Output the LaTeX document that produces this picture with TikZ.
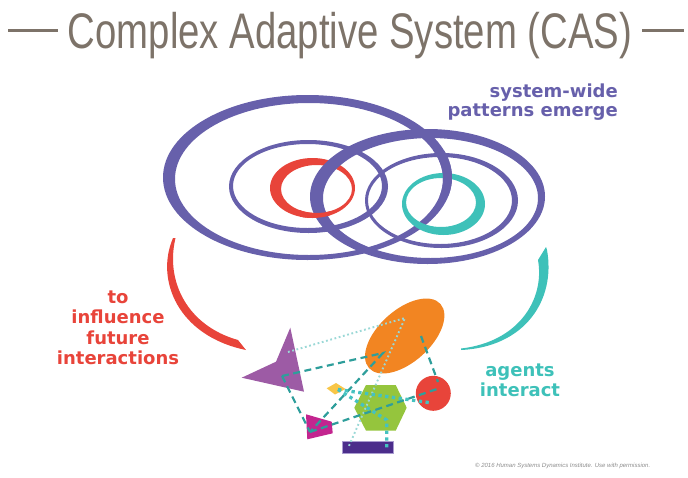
\documentclass[tikz,border=0pt]{standalone}
\usepackage{fontspec}
\setmainfont{Liberation Sans}
\newfontfamily\labfont{DejaVu Sans}
\definecolor{cpurple}{HTML}{6760AB}
\definecolor{cred}{HTML}{E8443A}
\definecolor{cteal}{HTML}{3EC1B9}
\definecolor{ctitle}{HTML}{7D7369}
\definecolor{corange}{HTML}{F28522}
\definecolor{cgreen}{HTML}{95C53D}
\definecolor{cmag}{HTML}{C3258F}
\definecolor{ctri}{HTML}{9D5BA5}
\definecolor{crect}{HTML}{4B2D8B}
\definecolor{crectb}{HTML}{A99BD0}
\definecolor{cyellow}{HTML}{F8C647}
\definecolor{dashteal}{HTML}{2E9E9B}
\definecolor{lightteal}{HTML}{9AD8D6}
\definecolor{dotteal}{HTML}{45C2C0}
\definecolor{ccopy}{HTML}{8C8C8C}
\tikzset{
  ring/.style={even odd rule},
  dashlink/.style={dashteal, line width=2.2pt, dash pattern=on 7pt off 4.5pt},
  lightlink/.style={lightteal, line width=1.9pt, dash pattern=on 1.8pt off 2.6pt},
  dotlink/.style={dotteal, line width=3.3pt, dash pattern=on 3.3pt off 3.5pt},
  lab/.style={font=\labfont\bfseries\fontsize{18}{20}\selectfont, anchor=base, inner sep=0pt},
}
\begin{document}
\begin{tikzpicture}[x=1pt,y=-1pt]
\useasboundingbox (0,0) rectangle (688,477);
% title
\node[anchor=base, inner sep=0pt, text=ctitle, font=\fontsize{50}{60}\selectfont] (title) at (350,48) {\scalebox{0.766}[1]{Complex Adaptive System (CAS)}};
\draw[ctitle, line width=3pt] (8,30) -- (58,30);
\draw[ctitle, line width=3pt] (642,30) -- (684,30);
% rings
\fill[cpurple,ring] (307.5,177.5) ellipse [x radius=144.5pt, y radius=82.5pt] (309,179) ellipse [x radius=134pt, y radius=76pt];
\fill[cpurple,ring] (308.5,186.5) ellipse [x radius=79.5pt, y radius=46.5pt] (307.5,186) ellipse [x radius=74.5pt, y radius=42pt];
\fill[cred,ring] (312.5,188) ellipse [x radius=42.5pt, y radius=30pt] (316.5,189) ellipse [x radius=35.5pt, y radius=24pt];
\fill[cpurple,ring] (427.5,196.5) ellipse [x radius=117.5pt, y radius=67.5pt] (430.5,198) ellipse [x radius=107.5pt, y radius=60pt];
\begin{scope}
\clip (300,200) rectangle (330,226);
\fill[cred,ring] (312.5,188) ellipse [x radius=42.5pt, y radius=30pt] (316.5,189) ellipse [x radius=35.5pt, y radius=24pt];
\end{scope}
\fill[cpurple,ring] (441.5,200.5) ellipse [x radius=76.5pt, y radius=47.5pt] (440,200.5) ellipse [x radius=72pt, y radius=43.5pt];
\fill[cteal,ring] (443.5,204) ellipse [x radius=41.5pt, y radius=31pt] (441,202.5) ellipse [x radius=35pt, y radius=24.5pt];
\begin{scope}
\clip (425,150) rectangle (470,195);
\fill[cpurple,ring] (307.5,177.5) ellipse [x radius=144.5pt, y radius=82.5pt] (309,179) ellipse [x radius=134pt, y radius=76pt];
\end{scope}
% labels
\node[lab, text=cpurple, anchor=base east] (sw1) at (618,97) {system-wide};
\node[lab, text=cpurple, anchor=base east] (sw2) at (618,116) {patterns emerge};
\node[lab, text=cred] (r1) at (118,303) {to};
\node[lab, text=cred] (r2) at (118,323.5) {influence};
\node[lab, text=cred] (r3) at (118,344) {future};
\node[lab, text=cred] (r4) at (118,364.5) {interactions};
\node[lab, text=cteal] (t1) at (520,376.5) {agents};
\node[lab, text=cteal] (t2) at (520,396) {interact};
% curved arrows
\fill[cred] (173,238) .. controls (155,280) and (178,336) .. (246,350)
  -- (238,340) .. controls (188,326) and (165,282) .. (175.5,238) -- cycle;
\fill[cteal] (546,247) -- (547,250) .. controls (556,300) and (525,347) .. (461,350)
  -- (461,348.5) .. controls (518,342) and (545,300) .. (538,260) -- cycle;
% agents
\fill[ctri] (290.3,327.7) -- (304,391.7) -- (241.7,377.7) -- (276,361.7) -- cycle;
\fill[corange, rotate around={42:(404.7,336)}] (404.7,336) ellipse [x radius=48pt, y radius=26pt];
\fill[cred] (433.3,393.3) circle [radius=17.5pt];
\fill[cgreen] (354.3,407.7) -- (366,385) -- (395.7,385) -- (406.7,407.7) -- (395.7,430.7) -- (366,430.7) -- cycle;
\fill[cyellow] (326.7,388.3) -- (336,383) -- (345.5,389) -- (335,394.5) -- cycle;
\fill[cmag] (306,414.3) -- (331.7,421.7) -- (332.7,433.3) -- (307.3,439.3) -- cycle;
\filldraw[fill=crect, draw=crectb, line width=0.8pt] (342,441) rectangle (393,453.3);
% connection points
\coordinate (triA) at (282,376);
\coordinate (triB) at (288,352);
\coordinate (orA) at (383,353);
\coordinate (orB) at (405,318);
\coordinate (orC) at (421,336);
\coordinate (magA) at (310,432);
\coordinate (cirA) at (440,388);
\coordinate (cirB) at (438,382);
\coordinate (cirC) at (432,403);
\coordinate (diaA) at (338,389.5);
\coordinate (hexA) at (386.7,420);
\coordinate (recA) at (348,448);
\coordinate (recB) at (386.7,448);
% links
\draw[lightlink] (triB) -- (orB) -- (recA);
\draw[dashlink] (triA) -- (orA) -- (magA);
\draw[dashlink] (triA) -- (magA);
\draw[dashlink] (magA) -- (cirA);
\draw[dashlink] (orC) -- (cirB);
\draw[dotlink] (diaA) -- (cirC);
\draw[dotlink] (diaA) -- (hexA) -- (recB);
% copyright
\node[anchor=base west, inner sep=0pt, text=ccopy, font=\itshape\fontsize{6}{7}\selectfont] (copy) at (475,467) {© 2016 Human Systems Dynamics Institute. Use with permission.};
\end{tikzpicture}
\end{document}
